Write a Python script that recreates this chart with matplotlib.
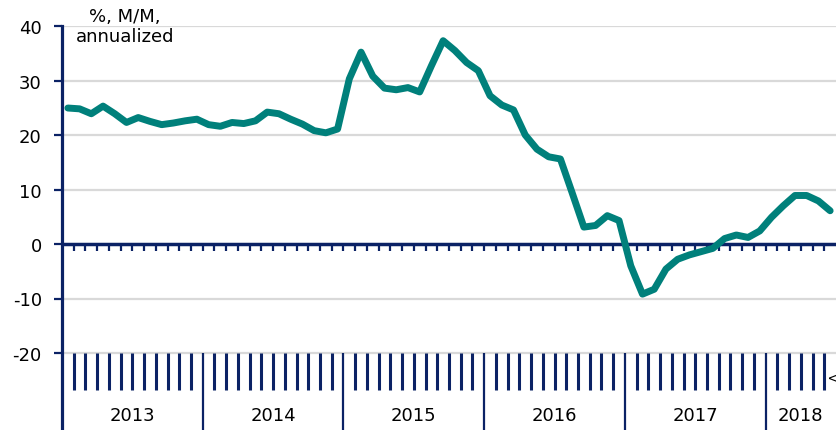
import matplotlib
matplotlib.use("Agg")
import matplotlib.pyplot as plt
import numpy as np

years = ["2013", "2014", "2015", "2016", "2017", "2018"]
values = [
    24.95, 24.8, 23.9, 25.3, 23.9, 22.3, 23.2, 22.5, 21.9, 22.2, 22.6, 22.9,
    21.9, 21.6, 22.3, 22.1, 22.6, 24.2, 23.9, 22.9, 22.0, 20.8, 20.4, 21.1,
    30.3, 35.2, 30.8, 28.6, 28.3, 28.7, 27.9, 32.7, 37.3, 35.5, 33.3, 31.8,
    27.2, 25.5, 24.6, 20.0, 17.4, 16.0, 15.6, 9.4, 3.1, 3.4, 5.2, 4.3,
    -4.0, -9.2, -8.3, -4.6, -2.8, -2.0, -1.4, -0.8, 1.0, 1.65, 1.2, 2.4,
    4.9, 7.0, 8.9, 8.9, 7.9, 6.1,
]
yticks = [-20, -10, 0, 10, 20, 30, 40]
unit_label = "%, M/M,\nannualized"

navy = "#0B2265"
teal = "#00807B"
grid = "#D9D9D9"

W, H = 836, 431
fig = plt.figure(figsize=(W / 100, H / 100), dpi=100)
left_px, top_px = 62, 27
ax = fig.add_axes([left_px / W, 0, (W - left_px) / W, (H - top_px) / H])

n = len(values)
ppu = 327 / 60.0
ybottom = -20 - (H - 354) / ppu
ax.set_xlim(0, n)
ax.set_ylim(ybottom, 40)

for s in ["top", "right", "bottom"]:
    ax.spines[s].set_visible(False)
ax.spines["left"].set_color(navy)
ax.spines["left"].set_linewidth(2.3)

ax.set_yticks(yticks)
ax.set_yticklabels([str(t) for t in yticks], fontsize=13)
ax.tick_params(axis="y", length=5.5, width=1.6, color=navy, pad=9)
ax.set_xticks([])

for t in yticks:
    if t != 0:
        ax.axhline(t, color=grid, lw=1.6, zorder=1)

# zero line with small ticks
ax.axhline(0, color=navy, lw=2.5, zorder=2)
k = np.arange(1, n)
ax.vlines(k, -1.3, 0, color=navy, lw=1.6, zorder=2)

# month ticks on bottom axis
mk = [i for i in k if i % 12 != 0]
ax.vlines(mk, -26.8, -20, color=navy, lw=2.2, zorder=2)
# year separators
ax.vlines([12 * i for i in range(1, len(years))], ybottom, -20, color=navy, lw=1.6, zorder=2)

for i, y in enumerate(years):
    start = 12 * i
    end = min(12 * (i + 1), n)
    ax.text((start + end) / 2, -31.4, y, ha="center", va="center", fontsize=13)

ax.text(n - 0.42, -24.3, "V", rotation=-90, ha="center", va="center", fontsize=9, clip_on=False)

x = np.arange(n) + 0.5
ax.plot(x, values, color=teal, lw=5, solid_joinstyle="round", solid_capstyle="round", zorder=3)

fig.text(125 / W, 1 - 8 / H, unit_label, ha="center", va="top", fontsize=13, linespacing=1.15)

fig.savefig("out.png", dpi=100)
